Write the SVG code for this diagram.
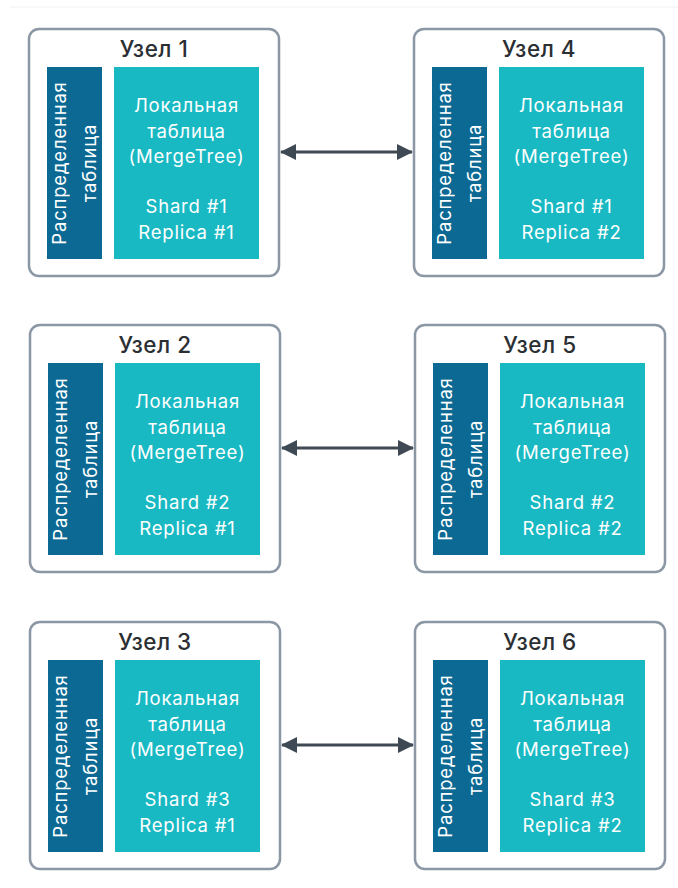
<svg xmlns="http://www.w3.org/2000/svg" width="678" height="888" viewBox="0 0 678 888">
  <style>
    .frame { fill: #ffffff; stroke: #8c97a5; stroke-width: 2.5; }
    .dist { fill: #0c6993; }
    .local { fill: #19b9c3; }
    .title { font-family: Inter, "Liberation Sans", sans-serif; font-size: 22.5px; font-weight: 500; fill: #2b2f33; text-anchor: middle; letter-spacing: 0.5px; }
    .label { font-family: Inter, "Liberation Sans", sans-serif; font-size: 18.5px; fill: #ffffff; text-anchor: middle; letter-spacing: 0.8px; }
    .link { stroke: #3e4954; stroke-width: 3; fill: none; }
  </style>
  <defs>
    <marker id="head" viewBox="0 0 16 16" refX="15" refY="8" markerWidth="16" markerHeight="16" markerUnits="userSpaceOnUse" orient="auto-start-reverse">
      <path d="M0,0 L16,8 L0,16 Z" fill="#3e4954"/>
    </marker>
  </defs>

  <rect x="0" y="0" width="678" height="888" fill="#ffffff"/>
  <line x1="10" y1="7" x2="678" y2="7" stroke="#f1f2f3" stroke-width="1"/>

  <!-- replication links between the two replicas of each shard -->
  <g id="connectors">
    <line class="link" x1="281" y1="152" x2="412" y2="152" marker-start="url(#head)" marker-end="url(#head)"/>
    <line class="link" x1="282" y1="448" x2="413" y2="448" marker-start="url(#head)" marker-end="url(#head)"/>
    <line class="link" x1="282" y1="745" x2="413" y2="745" marker-start="url(#head)" marker-end="url(#head)"/>
  </g>

  <g id="node1" transform="translate(29,29)">
    <rect class="frame" x="0" y="0" width="250" height="247" rx="10"/>
    <text class="title" x="125" y="28">Узел 1</text>
    <rect class="dist" x="18" y="38" width="55" height="192"/>
    <text class="label" transform="translate(37,134) rotate(-90)" x="0" y="0">Распределенная</text>
    <text class="label" transform="translate(67,134) rotate(-90)" x="0" y="0">таблица</text>
    <rect class="local" x="85" y="38" width="145" height="192"/>
    <text class="label" x="157.5" y="83">Локальная</text>
    <text class="label" x="157.5" y="108.5">таблица</text>
    <text class="label" x="157.5" y="133.5">(MergeTree)</text>
    <text class="label" x="157.5" y="184">Shard #1</text>
    <text class="label" x="157.5" y="209.5">Replica #1</text>
  </g>

  <g id="node4" transform="translate(414,29)">
    <rect class="frame" x="0" y="0" width="250" height="247" rx="10"/>
    <text class="title" x="125" y="28">Узел 4</text>
    <rect class="dist" x="18" y="38" width="55" height="192"/>
    <text class="label" transform="translate(37,134) rotate(-90)" x="0" y="0">Распределенная</text>
    <text class="label" transform="translate(67,134) rotate(-90)" x="0" y="0">таблица</text>
    <rect class="local" x="85" y="38" width="145" height="192"/>
    <text class="label" x="157.5" y="83">Локальная</text>
    <text class="label" x="157.5" y="108.5">таблица</text>
    <text class="label" x="157.5" y="133.5">(MergeTree)</text>
    <text class="label" x="157.5" y="184">Shard #1</text>
    <text class="label" x="157.5" y="209.5">Replica #2</text>
  </g>

  <g id="node2" transform="translate(30,325)">
    <rect class="frame" x="0" y="0" width="250" height="247" rx="10"/>
    <text class="title" x="125" y="28">Узел 2</text>
    <rect class="dist" x="18" y="38" width="55" height="192"/>
    <text class="label" transform="translate(37,134) rotate(-90)" x="0" y="0">Распределенная</text>
    <text class="label" transform="translate(67,134) rotate(-90)" x="0" y="0">таблица</text>
    <rect class="local" x="85" y="38" width="145" height="192"/>
    <text class="label" x="157.5" y="83">Локальная</text>
    <text class="label" x="157.5" y="108.5">таблица</text>
    <text class="label" x="157.5" y="133.5">(MergeTree)</text>
    <text class="label" x="157.5" y="184">Shard #2</text>
    <text class="label" x="157.5" y="209.5">Replica #1</text>
  </g>

  <g id="node5" transform="translate(415,325)">
    <rect class="frame" x="0" y="0" width="250" height="247" rx="10"/>
    <text class="title" x="125" y="28">Узел 5</text>
    <rect class="dist" x="18" y="38" width="55" height="192"/>
    <text class="label" transform="translate(37,134) rotate(-90)" x="0" y="0">Распределенная</text>
    <text class="label" transform="translate(67,134) rotate(-90)" x="0" y="0">таблица</text>
    <rect class="local" x="85" y="38" width="145" height="192"/>
    <text class="label" x="157.5" y="83">Локальная</text>
    <text class="label" x="157.5" y="108.5">таблица</text>
    <text class="label" x="157.5" y="133.5">(MergeTree)</text>
    <text class="label" x="157.5" y="184">Shard #2</text>
    <text class="label" x="157.5" y="209.5">Replica #2</text>
  </g>

  <g id="node3" transform="translate(30,622)">
    <rect class="frame" x="0" y="0" width="250" height="247" rx="10"/>
    <text class="title" x="125" y="28">Узел 3</text>
    <rect class="dist" x="18" y="38" width="55" height="192"/>
    <text class="label" transform="translate(37,134) rotate(-90)" x="0" y="0">Распределенная</text>
    <text class="label" transform="translate(67,134) rotate(-90)" x="0" y="0">таблица</text>
    <rect class="local" x="85" y="38" width="145" height="192"/>
    <text class="label" x="157.5" y="83">Локальная</text>
    <text class="label" x="157.5" y="108.5">таблица</text>
    <text class="label" x="157.5" y="133.5">(MergeTree)</text>
    <text class="label" x="157.5" y="184">Shard #3</text>
    <text class="label" x="157.5" y="209.5">Replica #1</text>
  </g>

  <g id="node6" transform="translate(415,622)">
    <rect class="frame" x="0" y="0" width="250" height="247" rx="10"/>
    <text class="title" x="125" y="28">Узел 6</text>
    <rect class="dist" x="18" y="38" width="55" height="192"/>
    <text class="label" transform="translate(37,134) rotate(-90)" x="0" y="0">Распределенная</text>
    <text class="label" transform="translate(67,134) rotate(-90)" x="0" y="0">таблица</text>
    <rect class="local" x="85" y="38" width="145" height="192"/>
    <text class="label" x="157.5" y="83">Локальная</text>
    <text class="label" x="157.5" y="108.5">таблица</text>
    <text class="label" x="157.5" y="133.5">(MergeTree)</text>
    <text class="label" x="157.5" y="184">Shard #3</text>
    <text class="label" x="157.5" y="209.5">Replica #2</text>
  </g>
</svg>
